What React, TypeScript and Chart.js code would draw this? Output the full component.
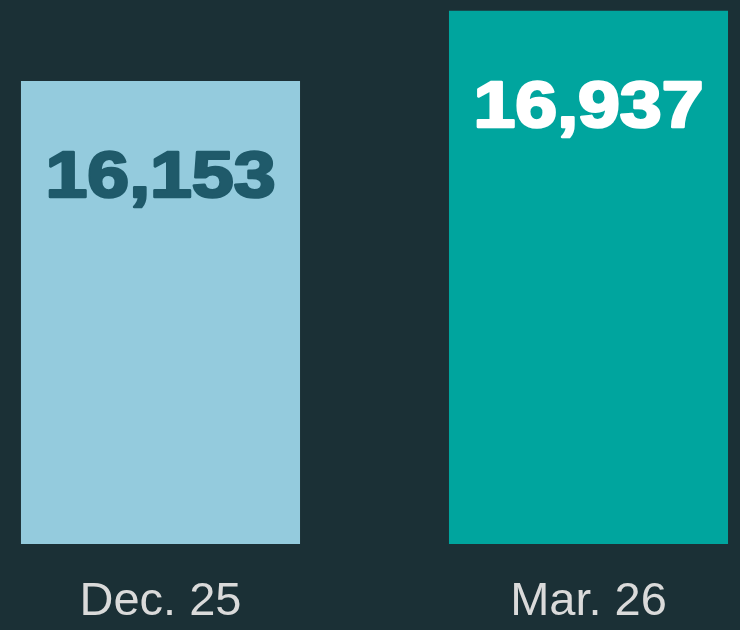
import React, { useEffect, useRef } from "react";
import { Chart, registerables } from "chart.js";

Chart.register(...registerables);

const categories = ["Dec. 25", "Mar. 26"];
const values = [16153, 16937];
const barColors = ["#94cbdd", "#00a59e"];
const valueLabelColors = ["#1f5a6a", "#ffffff"];
const yMin = 11000;
const yMax = 17000;

const BG = "#1b3036";
const TICK_COLOR = "#dadada";

const labelsPlugin = {
  id: "customLabels",
  afterDatasetsDraw(chart: any) {
    const meta = chart.getDatasetMeta(0);
    const ctx = chart.ctx;
    const xScale = chart.scales.x;
    meta.data.forEach((bar: any, i: number) => {
      const text = values[i].toLocaleString("en-US");
      const baseline = bar.y + 116;
      ctx.save();
      ctx.translate(bar.x, baseline);
      ctx.scale(1.03, 0.9);
      ctx.font = "bold 73px 'Liberation Sans', Arial, sans-serif";
      ctx.textAlign = "center";
      ctx.textBaseline = "alphabetic";
      ctx.fillStyle = valueLabelColors[i];
      ctx.strokeStyle = valueLabelColors[i];
      ctx.lineWidth = 3;
      ctx.lineJoin = "round";
      ctx.strokeText(text, 0, 0);
      ctx.fillText(text, 0, 0);
      ctx.restore();
    });
    categories.forEach((cat, i) => {
      const x = xScale.getPixelForValue(i);
      ctx.save();
      ctx.font = "47px 'Liberation Sans', Arial, sans-serif";
      ctx.textAlign = "center";
      ctx.textBaseline = "alphabetic";
      ctx.fillStyle = TICK_COLOR;
      ctx.fillText(cat, x, chart.chartArea.bottom + 71);
      ctx.restore();
    });
  },
};

export default function App() {
  const canvasRef = useRef<HTMLCanvasElement | null>(null);

  useEffect(() => {
    document.body.style.margin = "0";
    document.body.style.background = BG;
    const canvas = canvasRef.current;
    if (!canvas) return;
    const chart = new Chart(canvas, {
      type: "bar",
      data: {
        labels: categories,
        datasets: [
          {
            data: values,
            base: yMin,
            backgroundColor: barColors,
            borderWidth: 0,
            categoryPercentage: 1,
            barPercentage: 0.652,
            clip: false as any,
          },
        ],
      },
      options: {
        animation: false,
        responsive: true,
        maintainAspectRatio: false,
        layout: { padding: { left: 160.5, right: 151.5, top: 5, bottom: 86 } },
        plugins: {
          legend: { display: false },
          tooltip: { enabled: false },
        },
        scales: {
          x: {
            display: false,
            offset: false,
          },
          y: {
            display: false,
            min: yMin,
            max: yMax,
          },
        },
      },
      plugins: [labelsPlugin],
    });
    return () => chart.destroy();
  }, []);

  return (
    <div style={{ width: 740, height: 630, background: BG, position: "relative" }}>
      <canvas ref={canvasRef} />
    </div>
  );
}
